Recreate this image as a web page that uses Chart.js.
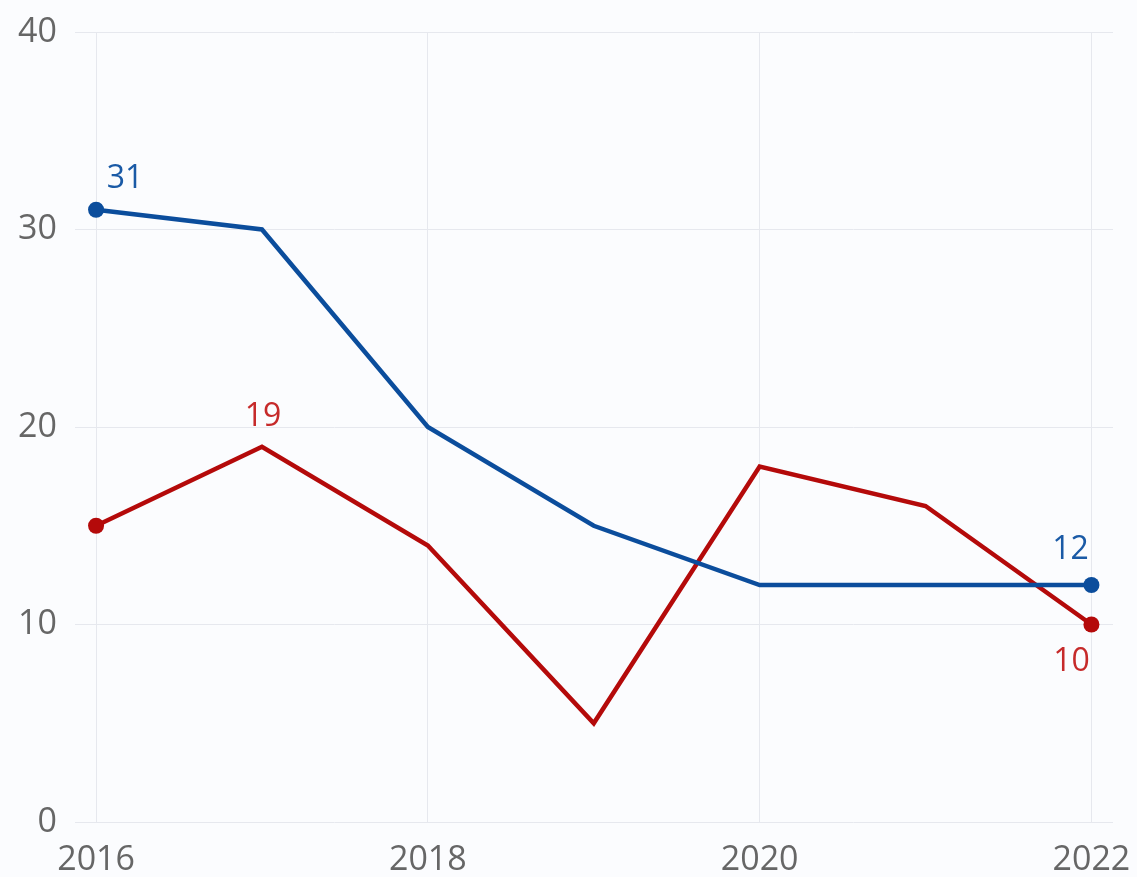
<!DOCTYPE html>
<html lang="en">
<head>
    <meta charset="UTF-8">
    <title>Line chart 2016-2022</title>
    <script src="https://cdn.jsdelivr.net/npm/chart.js"></script>
    <style>
        html, body {
            margin: 0;
            padding: 0;
            background-color: #fbfcfe;
        }
        #wrap {
            width: 1137px;
            height: 877px;
        }
    </style>
</head>
<body>
    <div id="wrap"><canvas id="chart"></canvas></div>

    <script>
        const years = [2016, 2017, 2018, 2019, 2020, 2021, 2022];
        const blueValues = [31, 30, 20, 15, 12, 12, 12];
        const redValues = [15, 19, 14, 5, 18, 16, 10];
        const xTicks = [2016, 2018, 2020, 2022];

        const BLUE = '#0b4d9c';
        const RED = '#b40a0a';

        // which points get a value label, and where it sits relative to the point
        const valueLabels = [
            { ds: 0, i: 0, dx: 29, dy: -31, color: '#1a5aa6' },
            { ds: 1, i: 1, dx: 1, dy: -30, color: '#c62a2a' },
            { ds: 0, i: 6, dx: -21, dy: -35, color: '#1a5aa6' },
            { ds: 1, i: 6, dx: -20, dy: 37, color: '#c62a2a' }
        ];

        const endsOnly = years.map((y, i) => (i === 0 || i === years.length - 1) ? 8 : 0);

        const FONT = '"Open Sans", "Noto Sans", sans-serif';

        const labelPlugin = {
            id: 'valueLabels',
            afterDatasetsDraw(chart) {
                const ctx = chart.ctx;
                ctx.save();
                ctx.font = '32px ' + FONT;
                ctx.textAlign = 'center';
                ctx.textBaseline = 'middle';
                valueLabels.forEach(l => {
                    const pt = chart.getDatasetMeta(l.ds).data[l.i];
                    const v = chart.data.datasets[l.ds].data[l.i].y;
                    ctx.fillStyle = l.color;
                    ctx.fillText(String(v), pt.x + l.dx, pt.y + l.dy);
                });
                ctx.restore();
            }
        };

        const toPoints = vals => vals.map((v, i) => ({ x: years[i], y: v }));

        new Chart(document.getElementById('chart'), {
            type: 'line',
            data: {
                datasets: [
                    {
                        data: toPoints(blueValues),
                        borderColor: BLUE,
                        backgroundColor: BLUE,
                        borderWidth: 4.5,
                        pointRadius: endsOnly,
                        pointHoverRadius: endsOnly,
                        pointBorderWidth: 0,
                        tension: 0
                    },
                    {
                        data: toPoints(redValues),
                        borderColor: RED,
                        backgroundColor: RED,
                        borderWidth: 4.5,
                        pointRadius: endsOnly,
                        pointHoverRadius: endsOnly,
                        pointBorderWidth: 0,
                        tension: 0
                    }
                ]
            },
            options: {
                responsive: true,
                maintainAspectRatio: false,
                animation: false,
                layout: { padding: { top: 32, right: 24, left: 0, bottom: 0 } },
                plugins: {
                    legend: { display: false },
                    tooltip: { enabled: false }
                },
                scales: {
                    x: {
                        type: 'linear',
                        min: 2015.873,
                        max: 2022.13,
                        afterBuildTicks: axis => {
                            axis.ticks = xTicks.map(v => ({ value: v }));
                        },
                        afterFit: axis => {
                            axis.height = 55;
                            axis.paddingLeft = 0;
                            axis.paddingRight = 0;
                        },
                        grid: { color: '#e6e8ee', lineWidth: 1, drawTicks: false },
                        border: { display: false },
                        ticks: {
                            color: '#666666',
                            padding: 18,
                            maxRotation: 0,
                            autoSkip: false,
                            font: { family: FONT, size: 34 },
                            callback: v => String(v)
                        }
                    },
                    y: {
                        min: 0,
                        max: 40,
                        afterFit: axis => {
                            axis.width = 75;
                            axis.paddingTop = 0;
                            axis.paddingBottom = 0;
                        },
                        grid: { color: '#e6e8ee', lineWidth: 1, drawTicks: false },
                        border: { display: false },
                        ticks: {
                            stepSize: 10,
                            color: '#666666',
                            padding: 18,
                            font: { family: FONT, size: 34 }
                        }
                    }
                }
            },
            plugins: [labelPlugin]
        });
    </script>
</body>
</html>
